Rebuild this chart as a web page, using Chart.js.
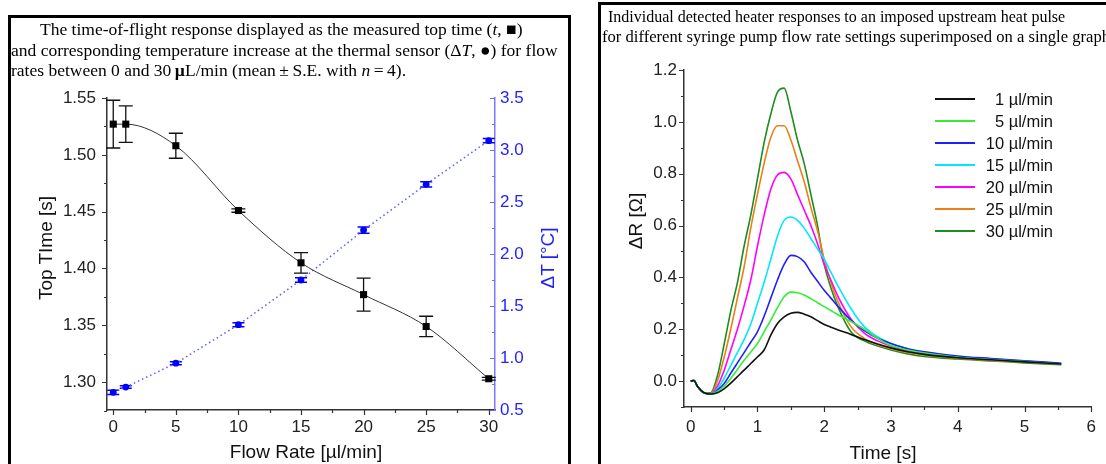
<!DOCTYPE html>
<html><head><meta charset="utf-8">
<script src="https://cdn.jsdelivr.net/npm/chart.js@4.4.1/dist/chart.umd.min.js"></script>
<style>
html,body{margin:0;padding:0;background:#fff;}
body{width:1106px;height:464px;overflow:hidden;position:relative;font-family:"Liberation Sans",Arial,sans-serif;}
canvas{position:absolute;top:0;}
#cL{left:0;}
#cR{left:580px;}
.box{position:absolute;border:3px solid #000;border-bottom:none;pointer-events:none;}
#boxL{left:8px;top:15px;width:557px;height:470px;}
#boxR{left:598px;top:2px;width:520px;height:480px;border-right:none;}
.cap{position:absolute;font-family:"Liberation Serif","Times New Roman",serif;font-size:17.5px;white-space:nowrap;color:#000;line-height:20px;}
.t{position:absolute;white-space:nowrap;line-height:1;font-size:19px;color:#111;transform:translate(-50%,-50%);}
.rot{transform:translate(-50%,-50%) rotate(-90deg);}
</style>
</head><body>
<canvas id="cL" width="580" height="464"></canvas>
<canvas id="cR" width="526" height="464"></canvas>
<div class="box" id="boxL"></div>
<div class="box" id="boxR"></div>

<div class="cap" style="left:40px;top:19px;">The time-of-flight response displayed as the measured top time (<i>t</i>, &#9632;)</div>
<div class="cap" style="left:11px;top:40px;">and corresponding temperature increase at the thermal sensor (&Delta;<i>T</i>, &#9679;) for flow</div>
<div class="cap" style="left:11px;top:60px;">rates between 0 and 30&#8201;<b>&micro;</b>L/min (mean&#8201;&plusmn;&#8201;S.E. with <i>n</i>&#8201;=&#8201;4).</div>

<div class="cap" style="left:608px;top:7px;font-size:16px;">Individual detected heater responses to an imposed upstream heat pulse</div>
<div class="cap" style="left:602px;top:27px;font-size:16.6px;">for different syringe pump flow rate settings superimposed on a single graph</div>

<div class="t rot" style="left:45px;top:248px;">Top TIme [s]</div>
<div class="t rot" style="left:547px;top:258px;color:#1f1fff;">&Delta;T [&deg;C]</div>
<div class="t" style="left:306px;top:451px;">Flow Rate [&micro;l/min]</div>
<div class="t rot" style="left:635px;top:221px;">&Delta;R [&Omega;]</div>
<div class="t" style="left:883px;top:452px;">Time [s]</div>

<script>
// ---------- Left panel data ----------
const flowRate   = [0, 1, 5, 10, 15, 20, 25, 30];
const topTime    = [1.527, 1.527, 1.508, 1.451, 1.405, 1.377, 1.349, 1.303];
const topTimeErr = [0.021, 0.016, 0.011, 0.0015, 0.009, 0.0145, 0.009, 0.0012];
const deltaT     = [0.67, 0.72, 0.95, 1.32, 1.75, 2.23, 2.67, 3.09];
const deltaTErr  = [0.02, 0.012, 0.015, 0.02, 0.022, 0.03, 0.025, 0.02];

const flowTicks      = [0, 5, 10, 15, 20, 25, 30];
const flowMinorTicks = [2.5, 7.5, 12.5, 17.5, 22.5, 27.5];
const topTimeTicks   = [1.30, 1.35, 1.40, 1.45, 1.50, 1.55];
const topTimeMinor   = [1.275, 1.325, 1.375, 1.425, 1.475, 1.525];
const deltaTTicks    = [0.5, 1.0, 1.5, 2.0, 2.5, 3.0, 3.5];
const deltaTMinor    = [0.75, 1.25, 1.75, 2.25, 2.75, 3.25];

// ---------- Right panel data ----------
const time = [0,0.05,0.1,0.2,0.3,0.4,0.5,0.6,0.7,0.8,0.9,1.0,1.1,1.2,1.3,1.4,1.5,1.6,1.7,1.8,1.9,2.0,2.1,2.2,2.4,2.6,2.8,3.0,3.25,3.5,4.0,4.5,5.0,5.55];
const r1  = [0,0.002,-0.02,-0.045,-0.05,-0.045,-0.03,-0.008,0.017,0.042,0.068,0.093,0.12,0.177,0.222,0.248,0.262,0.265,0.258,0.248,0.233,0.218,0.208,0.198,0.18,0.16,0.143,0.128,0.113,0.103,0.09,0.082,0.074,0.066];
const r5  = [0,0.002,-0.02,-0.045,-0.05,-0.04,-0.02,0.01,0.045,0.08,0.112,0.145,0.19,0.235,0.283,0.325,0.343,0.341,0.332,0.318,0.302,0.287,0.272,0.257,0.23,0.2,0.165,0.137,0.12,0.108,0.092,0.083,0.075,0.066];
const r10 = [0,0.002,-0.02,-0.045,-0.05,-0.035,-0.01,0.03,0.07,0.11,0.15,0.19,0.25,0.32,0.39,0.45,0.485,0.48,0.46,0.42,0.385,0.35,0.32,0.29,0.235,0.195,0.165,0.145,0.125,0.113,0.097,0.087,0.078,0.069];
const r15 = [0,0.002,-0.02,-0.045,-0.05,-0.03,0.01,0.06,0.11,0.16,0.22,0.3,0.38,0.47,0.56,0.62,0.633,0.62,0.59,0.55,0.51,0.47,0.42,0.37,0.28,0.21,0.17,0.145,0.125,0.112,0.095,0.085,0.077,0.068];
const r20 = [0,0.002,-0.02,-0.045,-0.05,-0.02,0.04,0.12,0.2,0.29,0.39,0.52,0.64,0.74,0.795,0.805,0.78,0.72,0.66,0.6,0.53,0.45,0.39,0.33,0.24,0.185,0.155,0.135,0.118,0.107,0.092,0.082,0.075,0.067];
const r25 = [0,0.002,-0.02,-0.045,-0.048,0.0,0.09,0.2,0.32,0.44,0.59,0.72,0.84,0.94,0.985,0.985,0.93,0.85,0.77,0.67,0.58,0.47,0.38,0.31,0.21,0.165,0.14,0.125,0.11,0.1,0.088,0.08,0.073,0.066];
const r30 = [0,0.002,-0.02,-0.045,-0.045,0.02,0.14,0.27,0.38,0.52,0.64,0.78,0.92,1.03,1.115,1.13,1.04,0.93,0.84,0.72,0.6,0.45,0.36,0.29,0.19,0.155,0.135,0.12,0.105,0.095,0.085,0.078,0.07,0.063];

const seriesLabels = ['1 \u00b5l/min','5 \u00b5l/min','10 \u00b5l/min','15 \u00b5l/min','20 \u00b5l/min','25 \u00b5l/min','30 \u00b5l/min'];
const seriesValues = [r1, r5, r10, r15, r20, r25, r30];
const seriesColors = ['#111111','#33ee33','#2020ff','#00e8ff','#ff00ff','#e8801a','#1e8c1e'];

const timeTicks  = [0,1,2,3,4,5,6];
const timeMinor  = [0.5,1.5,2.5,3.5,4.5,5.5];
const dRTicks    = [0.0,0.2,0.4,0.6,0.8,1.0,1.2];
const dRMinor    = [-0.1,0.1,0.3,0.5,0.7,0.9,1.1];

Chart.defaults.font.family = '"Liberation Sans", Arial, sans-serif';
Chart.defaults.color = '#222';

// draws major/minor tick marks using the chart's scales
const tickMarks = {
  id: 'tickMarks',
  afterDraw(chart, args, opts) {
    const ctx = chart.ctx;
    (opts.axes || []).forEach(a => {
      const s = chart.scales[a.id];
      ctx.save();
      ctx.strokeStyle = a.color;
      ctx.lineWidth = 1.2;
      ctx.beginPath();
      const draw = (v, len) => {
        const p = Math.round(s.getPixelForValue(v)) + 0.5;
        if (s.isHorizontal()) {
          const y0 = s.top;
          ctx.moveTo(p, y0); ctx.lineTo(p, y0 + len);
        } else if (a.side === 'left') {
          ctx.moveTo(s.right, p); ctx.lineTo(s.right - len, p);
        } else { // right axis, ticks point inward
          ctx.moveTo(s.left, p); ctx.lineTo(s.left - len, p);
        }
      };
      a.major.forEach(v => draw(v, 5));
      a.minor.forEach(v => draw(v, 3));
      ctx.stroke();
      ctx.restore();
    });
  }
};

// error bars using the chart's scales
const errorBars = {
  id: 'errorBars',
  beforeDatasetsDraw(chart, args, opts) {
    const ctx = chart.ctx;
    (opts.sets || []).forEach(e => {
      const meta = chart.getDatasetMeta(e.index);
      const ys = chart.scales[meta.yAxisID];
      const xs = chart.scales[meta.xAxisID];
      const ds = chart.data.datasets[e.index].data;
      ctx.save();
      ctx.strokeStyle = e.color; ctx.lineWidth = e.width;
      ctx.beginPath();
      ds.forEach((pt, i) => {
        const x = xs.getPixelForValue(pt.x);
        const yT = ys.getPixelForValue(pt.y + e.err[i]);
        const yB = ys.getPixelForValue(pt.y - e.err[i]);
        ctx.moveTo(x, yT); ctx.lineTo(x, yB);
        ctx.moveTo(x - e.cap, yT); ctx.lineTo(x + e.cap, yT);
        ctx.moveTo(x - e.cap, yB); ctx.lineTo(x + e.cap, yB);
      });
      ctx.stroke();
      ctx.restore();
    });
  }
};

// legend drawn as text on the chart
const sideLegend = {
  id: 'sideLegend',
  afterDraw(chart, args, opts) {
    if (!opts.show) return;
    const ctx = chart.ctx;
    ctx.save();
    ctx.font = '16.5px "Liberation Sans", Arial, sans-serif';
    ctx.textAlign = 'right';
    ctx.textBaseline = 'middle';
    chart.data.datasets.forEach((d, i) => {
      const y = opts.y0 + i * opts.dy;
      ctx.strokeStyle = d.borderColor; ctx.lineWidth = 2;
      ctx.beginPath(); ctx.moveTo(opts.x0, y); ctx.lineTo(opts.x1, y); ctx.stroke();
      ctx.fillStyle = '#111';
      ctx.fillText(d.label, opts.xt, y + 1);
    });
    ctx.restore();
  }
};

const tickFont = { size: 17 };

new Chart(document.getElementById('cL'), {
  type: 'scatter',
  data: { datasets: [
    { label: 't', data: flowRate.map((x, i) => ({x, y: topTime[i]})), yAxisID: 'y', xAxisID: 'x',
      showLine: true, borderColor: '#333', borderWidth: 1, cubicInterpolationMode: 'monotone',
      pointStyle: 'rect', pointRadius: 5, pointBackgroundColor: '#000', pointBorderColor: '#000', pointBorderWidth: 0 },
    { label: 'dT', data: flowRate.map((x, i) => ({x, y: deltaT[i]})), yAxisID: 'y2', xAxisID: 'x',
      showLine: true, borderColor: '#5c5cff', borderWidth: 1.5, borderDash: [1.5, 3], tension: 0,
      pointStyle: 'circle', pointRadius: 3.4, pointBackgroundColor: '#0000ff', pointBorderColor: '#0000ff', pointBorderWidth: 0 }
  ]},
  options: {
    responsive: false, animation: false, devicePixelRatio: 1,
    layout: { padding: { top: 98, left: 0, right: 0, bottom: 0 } },
    plugins: {
      legend: { display: false }, tooltip: { enabled: false },
      tickMarks: { axes: [
        { id: 'x', major: flowTicks, minor: flowMinorTicks, color: '#333' },
        { id: 'y', side: 'left', major: topTimeTicks, minor: topTimeMinor, color: '#333' },
        { id: 'y2', side: 'right', major: deltaTTicks, minor: deltaTMinor, color: '#6b6bff' }
      ]},
      errorBars: { sets: [
        { index: 0, err: topTimeErr, color: '#111', width: 1.3, cap: 7 },
        { index: 1, err: deltaTErr, color: '#0000ff', width: 1.5, cap: 6 }
      ]}
    },
    scales: {
      x: { type: 'linear', position: 'bottom', min: -0.5, max: 30.5,
        afterFit: s => { s.height = 54; },
        afterBuildTicks: s => { s.ticks = flowTicks.map(v => ({value: v})); },
        grid: { display: false, drawTicks: false }, border: { display: true, color: '#333', width: 1.5 },
        ticks: { padding: 7, maxRotation: 0, autoSkip: false, font: tickFont, color: '#222', callback: v => String(v) } },
      y: { type: 'linear', position: 'left', min: 1.2755, max: 1.55,
        afterFit: s => { s.width = 107; },
        afterBuildTicks: s => { s.ticks = topTimeTicks.map(v => ({value: v})); },
        grid: { display: false, drawTicks: false }, border: { display: true, color: '#333', width: 1.5 },
        ticks: { padding: 11, autoSkip: false, font: tickFont, color: '#222', callback: v => v.toFixed(2) } },
      y2: { type: 'linear', position: 'right', min: 0.5, max: 3.5,
        afterFit: s => { s.width = 85; },
        afterBuildTicks: s => { s.ticks = deltaTTicks.map(v => ({value: v})); },
        grid: { display: false, drawTicks: false }, border: { display: true, color: '#7a7aff', width: 1.5 },
        ticks: { padding: 5, autoSkip: false, font: tickFont, color: '#1f1fff', callback: v => v.toFixed(1) } }
    }
  },
  plugins: [tickMarks, errorBars]
});

new Chart(document.getElementById('cR'), {
  type: 'scatter',
  data: { datasets: seriesValues.map((vals, k) => ({
    label: seriesLabels[k],
    data: time.map((t, i) => ({x: t, y: vals[i]})),
    showLine: true, borderColor: seriesColors[k], borderWidth: 1.6,
    cubicInterpolationMode: 'monotone', pointRadius: 0
  }))},
  options: {
    responsive: false, animation: false, devicePixelRatio: 1,
    layout: { padding: { top: 70, left: 0, right: 12, bottom: 0 } },
    plugins: {
      legend: { display: false }, tooltip: { enabled: false },
      tickMarks: { axes: [
        { id: 'x', major: timeTicks, minor: timeMinor, color: '#333' },
        { id: 'y', side: 'left', major: dRTicks, minor: dRMinor, color: '#333' }
      ]},
      sideLegend: { show: true, x0: 355, x1: 395, xt: 473, y0: 99, dy: 22 }
    },
    scales: {
      x: { type: 'linear', position: 'bottom', min: -0.1, max: 6,
        afterFit: s => { s.height = 57; },
        afterBuildTicks: s => { s.ticks = timeTicks.map(v => ({value: v})); },
        grid: { display: false, drawTicks: false }, border: { display: true, color: '#333', width: 1.5 },
        ticks: { padding: 10, maxRotation: 0, autoSkip: false, font: tickFont, color: '#222', callback: v => String(v) } },
      y: { type: 'linear', position: 'left', min: -0.1, max: 1.2,
        afterFit: s => { s.width = 104; },
        afterBuildTicks: s => { s.ticks = dRTicks.map(v => ({value: v})); },
        grid: { display: false, drawTicks: false }, border: { display: true, color: '#333', width: 1.5 },
        ticks: { padding: 7, autoSkip: false, font: tickFont, color: '#222', callback: v => v.toFixed(1) } }
    }
  },
  plugins: [tickMarks, sideLegend]
});
</script>
</body></html>
